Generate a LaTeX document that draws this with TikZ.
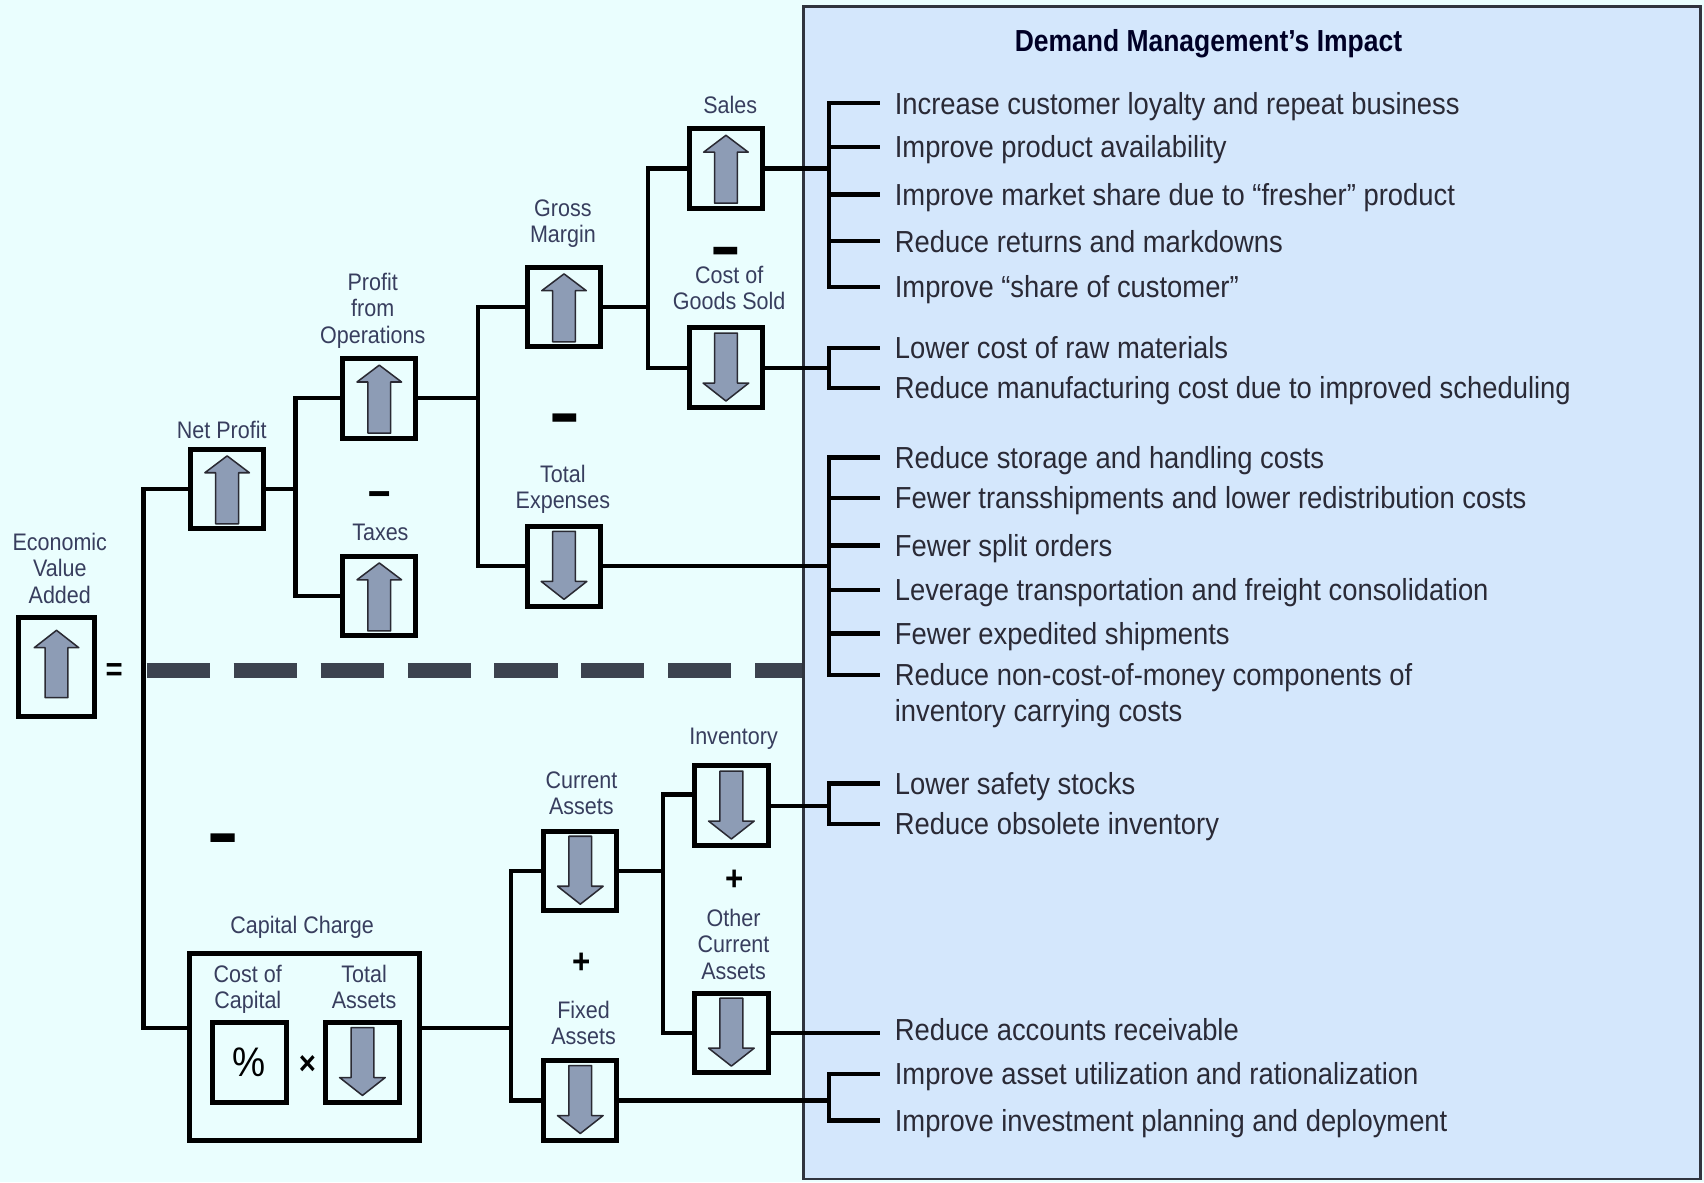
\documentclass[tikz,border=0pt]{standalone}
\usepackage{fontspec}
\usepackage{graphicx}
\setmainfont{Liberation Sans}[FakeStretch=0.9]
\newfontfamily\titlefont{Liberation Sans}[FakeStretch=0.87]
\definecolor{bgc}{HTML}{EAFEFE}
\definecolor{panelc}{HTML}{D4E7FC}
\definecolor{panelline}{HTML}{30343E}
\definecolor{labc}{HTML}{383E5E}
\definecolor{impc}{HTML}{2A2A36}
\definecolor{arrfill}{HTML}{8D9CB5}
\definecolor{arrline}{HTML}{2A2A33}
\definecolor{dashc}{HTML}{3C434F}
\newcommand\impitem[3]{%
  \node[imp] (#1) at (823,#2+10) {#3};
  \coordinate (#1-t) at ([shift={(-7.5pt,5pt)}]#1.base west);}
\newcommand\minusglyph{\raisebox{-0.267em}[0.1em][0pt]{–}}
\tikzset{
  ibox/.style={draw=black, line width=2.3pt, minimum width=33.7pt, minimum height=36.7pt, inner sep=0pt},
  conn/.style={draw=black, line width=2pt, line cap=rect, line join=miter},
  arr/.style={fill=arrfill, draw=arrline, line width=0.7pt, line join=round},
  lab/.style={font=\fontsize{11}{12}\selectfont, text=labc, align=center, inner sep=0pt},
  imp/.style={font=\fontsize{14}{16.5}\selectfont, text=impc, anchor=base west, inner sep=0pt},
  opsym/.style={inner sep=0pt, text=black},
  minussym/.style={inner sep=0pt, text=black, font=\bfseries\fontsize{10}{10}\selectfont},
  dashbar/.style={draw=dashc, line width=7pt, dash pattern=on 29pt off 11pt},
  uparr/.pic={\path[arr] (0,-30.5) -- (20.5,-15) -- (10.5,-15) -- (10.5,32) -- (-10.5,32) -- (-10.5,-15) -- (-20.5,-15) -- cycle;},
  dnarr/.pic={\path[arr] (0,30.5) -- (21,14) -- (10.5,14) -- (10.5,-32) -- (-10.5,-32) -- (-10.5,14) -- (-21,14) -- cycle;},
  evaarr/.pic={\path[arr] (0,-34) -- (20.5,-18) -- (10.5,-18) -- (10.5,28) -- (-10.5,28) -- (-10.5,-18) -- (-20.5,-18) -- cycle;}
}
\begin{document}
\begin{tikzpicture}[x=0.5pt,y=-0.5pt]
\fill[bgc] (0,0) rectangle (1568,1088);
\useasboundingbox (0,0) rectangle (1568,1088);

% right panel
\node[draw=panelline, fill=panelc, line width=1.2pt, minimum width=412.8pt, minimum height=539.3pt, inner sep=0pt] (panel) at (1152,545.5) {};
\node[font=\titlefont\bfseries\fontsize{14}{16}\selectfont, text=black!85!blue, inner sep=0pt] (title) at (1112,40) {Demand Management’s Impact};

% boxes
\node[draw=black, line width=2.3pt, minimum width=34.7pt, minimum height=45.7pt, inner sep=0pt] (eva) at (52,614) {};
\pic at (eva.center) {evaarr};
\node[ibox] (np) at (209,450) {};   \pic at (np.center) {uparr};
\node[ibox] (pfo) at (349,366.5) {}; \pic at (pfo.center) {uparr};
\node[ibox] (tax) at (349,548.5) {}; \pic at (tax.center) {uparr};
\node[ibox] (gm) at (519,282.5) {};  \pic at (gm.center) {uparr};
\node[ibox] (te) at (519,521) {};    \pic at (te.center) {dnarr};
\node[ibox] (sales) at (668,155) {}; \pic at (sales.center) {uparr};
\node[ibox] (cogs) at (668,338.5) {}; \pic at (cogs.center) {dnarr};
\node[ibox] (ca) at (534,801.5) {};  \pic at (ca.center) {dnarr};
\node[ibox] (fa) at (534,1012.5) {}; \pic at (fa.center) {dnarr};
\node[ibox] (inv) at (673,741.5) {}; \pic at (inv.center) {dnarr};
\node[ibox] (oca) at (673,950.5) {}; \pic at (oca.center) {dnarr};
\node[draw=black, line width=2.3pt, minimum width=105.7pt, minimum height=86.2pt, inner sep=0pt] (cc) at (280,963.5) {};
\node[ibox, font=\fontsize{19}{20}\selectfont, text=black] (pct) at (229.5,977.5) {\%};
\node[ibox] (ta) at (333.5,977.5) {}; \pic at (ta.center) {dnarr};

% labels
\node[lab] (leva) at (55,523) {Economic\\Value\\Added};
\node[lab] (lnp) at (204,396) {Net Profit};
\node[lab] (lpfo) at (343,286) {Profit\\from\\Operations};
\node[lab] (ltax) at (350,490) {Taxes};
\node[lab] (lgm) at (518,206) {Gross\\Margin};
\node[lab] (lte) at (518,450) {Total\\Expenses};
\node[lab] (lsales) at (672,97) {Sales};
\node[lab] (lcogs) at (671,265) {Cost of\\Goods Sold};
\node[lab] (linv) at (675,680) {Inventory};
\node[lab] (loca) at (675,869) {Other\\Current\\Assets};
\node[lab] (lca) at (535,730) {Current\\Assets};
\node[lab] (lfa) at (537,941) {Fixed\\Assets};
\node[lab] (lcc) at (278,853) {Capital Charge};
\node[lab] (lcoc) at (228,910) {Cost of\\Capital};
\node[lab] (lta) at (335,908) {Total\\Assets};

% operators
\node[opsym, font=\bfseries\fontsize{15}{16}\selectfont] (eq) at (105,618) {=};
\node[minussym] (m1) at (205,767) {\scalebox{2.5}[4]{\minusglyph}};
\node[minussym] (m2) at (349,452) {\scalebox{2.05}[2.3]{\minusglyph}};
\node[minussym] (m3) at (520,381) {\scalebox{2.45}[3.85]{\minusglyph}};
\node[minussym] (m4) at (668,228) {\scalebox{2.45}[3.5]{\minusglyph}};
\node[opsym, font=\bfseries\fontsize{16}{16}\selectfont] (p1) at (535,886) {+};
\node[opsym, font=\bfseries\fontsize{16}{16}\selectfont] (p2) at (676,810) {+};
\node[opsym, font=\bfseries\fontsize{15}{16}\selectfont] (times) at (283,980) {×};

% junctions
\coordinate (j0) at (132,617);
\coordinate (j1) at (272,450);
\coordinate (j2) at (440,366.5);
\coordinate (j3) at (596,282.5);
\coordinate (j6) at (470,946);
\coordinate (j7) at (610,801.5);
\coordinate (b1) at (763,155);
\coordinate (b2) at (763,338.5);
\coordinate (b3) at (763,521);
\coordinate (b4) at (763,741.5);
\coordinate (b5) at (763,1012.5);

% dashed separator
\draw[dashbar] ([xshift=1.5pt]j0) -- (j0 -| panel.west);

% tree connectors
\draw[conn] (np.west) -| (j0) |- ([yshift=8.75pt]cc.west);
\draw[conn] (np.east) -- (j1);
\draw[conn] (pfo.west) -| (j1) |- (tax.west);
\draw[conn] (pfo.east) -- (j2);
\draw[conn] (gm.west) -| (j2) |- (te.west);
\draw[conn] (gm.east) -- (j3);
\draw[conn] (sales.west) -| (j3) |- (cogs.west);
\draw[conn] ([yshift=8.75pt]cc.east) -- (j6);
\draw[conn] (ca.west) -| (j6) |- (fa.west);
\draw[conn] (ca.east) -- (j7);
\draw[conn] ([yshift=5.25pt]inv.west) -| (j7) |- (oca.west);

% impact items
\impitem{i1}{95}{Increase customer loyalty and repeat business}
\impitem{i2}{135}{Improve product availability}
\impitem{i3}{179}{Improve market share due to “fresher” product}
\impitem{i4}{222}{Reduce returns and markdowns}
\impitem{i5}{264}{Improve “share of customer”}
\impitem{i6}{320}{Lower cost of raw materials}
\impitem{i7}{357}{Reduce manufacturing cost due to improved scheduling}
\impitem{i8}{421}{Reduce storage and handling costs}
\impitem{i9}{458}{Fewer transshipments and lower redistribution costs}
\impitem{i10}{502}{Fewer split orders}
\impitem{i11}{543}{Leverage transportation and freight consolidation}
\impitem{i12}{583}{Fewer expedited shipments}
\impitem{i13}{621}{Reduce non-cost-of-money components of}
\node[imp] (i13b) at (823,664) {inventory carrying costs};
\impitem{i14}{721}{Lower safety stocks}
\impitem{i15}{758}{Reduce obsolete inventory}
\impitem{i16}{947}{Reduce accounts receivable}
\impitem{i17}{988}{Improve asset utilization and rationalization}
\impitem{i18}{1031}{Improve investment planning and deployment}

% brackets
\draw[conn] (sales.east) -- (b1);
\foreach \n in {i1,i2,i3,i4,i5} \draw[conn] (\n-t) -| (b1);
\draw[conn] (cogs.east) -- (b2);
\foreach \n in {i6,i7} \draw[conn] (\n-t) -| (b2);
\draw[conn] (te.east) -- (b3);
\foreach \n in {i8,i9,i10,i11,i12,i13} \draw[conn] (\n-t) -| (b3);
\draw[conn] (inv.east) -- (b4);
\foreach \n in {i14,i15} \draw[conn] (\n-t) -| (b4);
\draw[conn] (oca.east) -- (oca.east -| i16-t);
\draw[conn] (fa.east) -- (b5);
\foreach \n in {i17,i18} \draw[conn] (\n-t) -| (b5);
\end{tikzpicture}
\end{document}
